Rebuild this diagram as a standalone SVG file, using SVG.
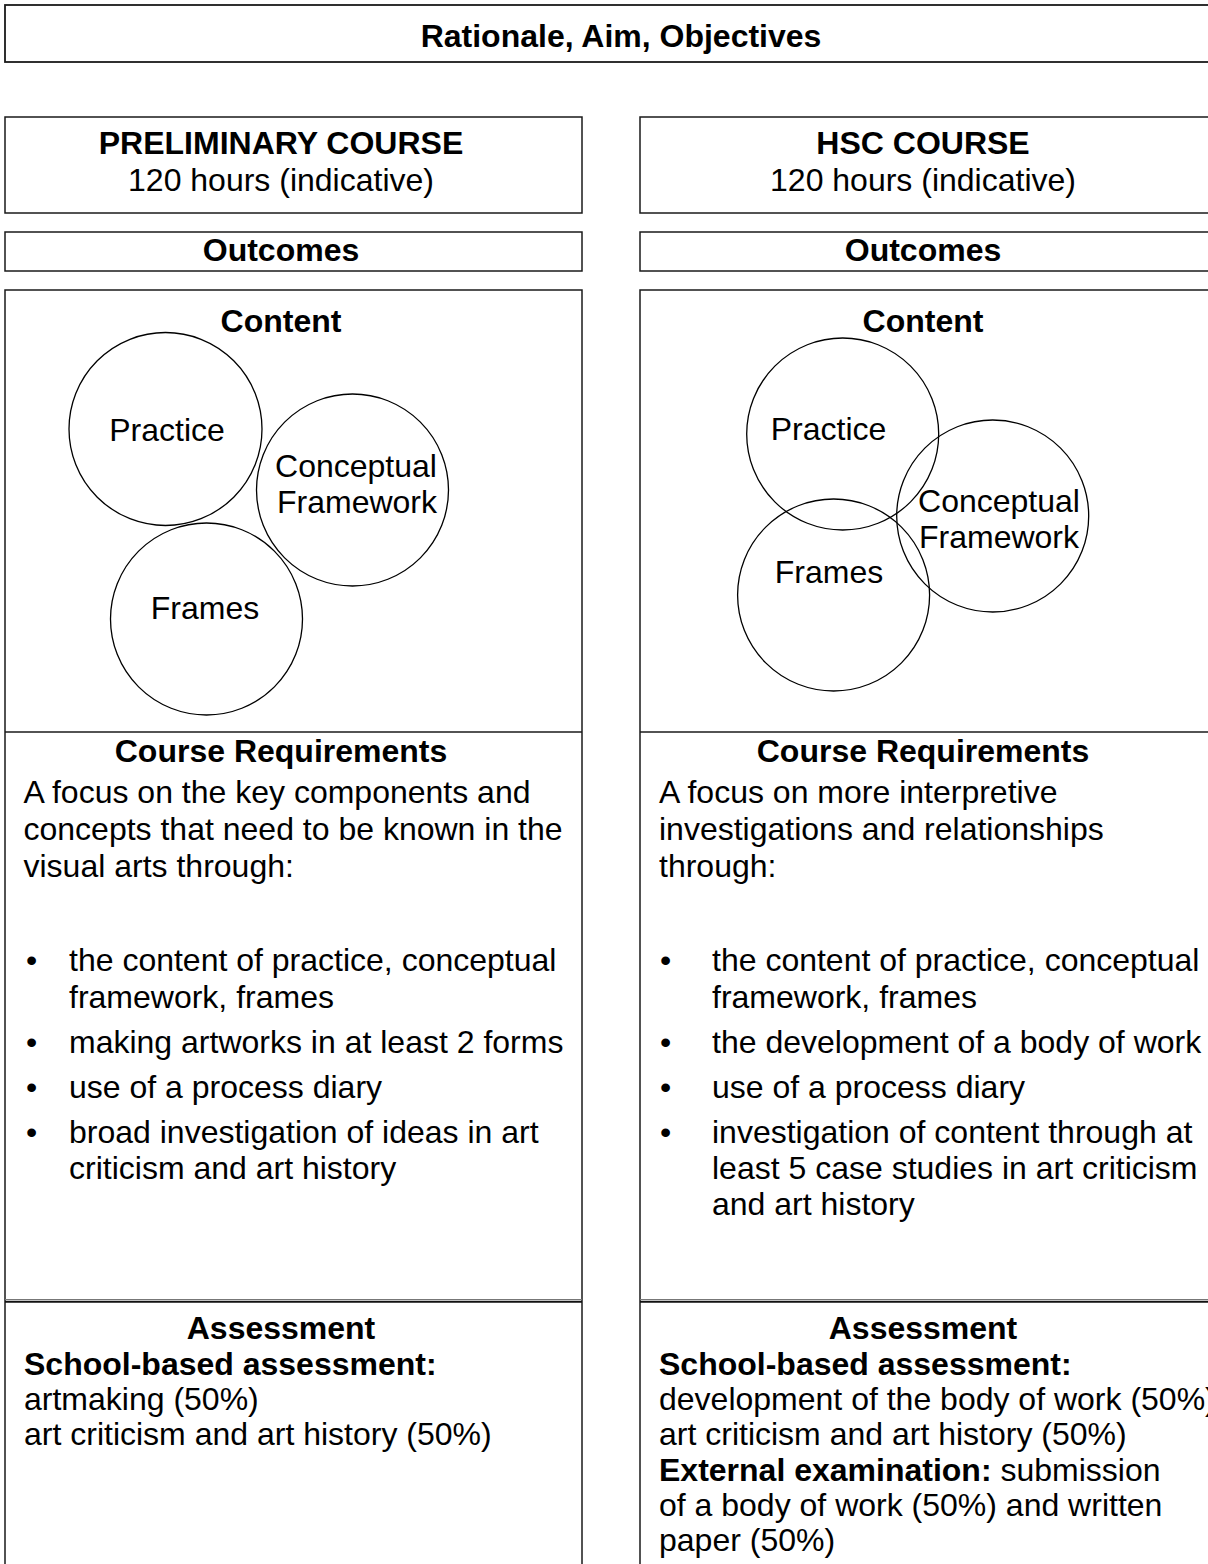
<svg xmlns="http://www.w3.org/2000/svg" width="1208" height="1564" viewBox="0 0 1208 1564">
<style>
  .box { fill: #ffffff; stroke: #1a1a1a; stroke-width: 1.5; }
  .sep { stroke: #1a1a1a; stroke-width: 1.5; fill: none; }
  .circ { fill: none; stroke: #000000; stroke-width: 1.3; }
  text { font-family: "Liberation Sans", Arial, sans-serif; font-size: 32px; fill: #000000; }
  .b { font-weight: bold; }
  .c { text-anchor: middle; }
</style>
<rect x="0" y="0" width="1208" height="1564" fill="#ffffff"/>

<g id="title">
  <rect class="box" x="5" y="5" width="1240" height="57" style="stroke-width:1.8"/>
  <text class="b c" x="621" y="47">Rationale, Aim, Objectives</text>
</g>

<g id="prelim-header">
  <rect class="box" x="5" y="117" width="577" height="96"/>
  <text class="b c" x="281" y="154">PRELIMINARY COURSE</text>
  <text class="c" x="281" y="191">120 hours (indicative)</text>
</g>
<g id="prelim-outcomes">
  <rect class="box" x="5" y="232" width="577" height="39"/>
  <text class="b c" x="281" y="261">Outcomes</text>
</g>
<g id="prelim-body">
  <rect class="box" x="5" y="290" width="577" height="1300"/>
  <line class="sep" x1="5" y1="732" x2="582" y2="732"/>
  <line x1="5" y1="1299.5" x2="582" y2="1299.5" stroke="#777" stroke-width="1"/>
  <line x1="5" y1="1301.8" x2="582" y2="1301.8" stroke="#111" stroke-width="2"/>
</g>
<g id="prelim-content">
  <text class="b c" x="281" y="332">Content</text>
  <g id="prelim-practice">
    <circle class="circ" cx="165.5" cy="429" r="96.5"/>
    <text class="c" x="167" y="441">Practice</text>
  </g>
  <g id="prelim-conceptual">
    <circle class="circ" cx="352.5" cy="490" r="96"/>
    <text class="c" x="356" y="477">Conceptual</text>
    <text class="c" x="357" y="513">Framework</text>
  </g>
  <g id="prelim-frames">
    <circle class="circ" cx="206.5" cy="619" r="96"/>
    <text class="c" x="205" y="619">Frames</text>
  </g>
</g>
<g id="prelim-requirements">
  <text class="b c" x="281" y="762">Course Requirements</text>
  <text x="23.5" y="803">A focus on the key components and</text>
  <text x="23.5" y="840">concepts that need to be known in the</text>
  <text x="23.5" y="877">visual arts through:</text>
  <text x="26" y="971">•</text><text x="69" y="971">the content of practice, conceptual</text>
  <text x="69" y="1008">framework, frames</text>
  <text x="26" y="1053">•</text><text x="69" y="1053">making artworks in at least 2 forms</text>
  <text x="26" y="1098">•</text><text x="69" y="1098">use of a process diary</text>
  <text x="26" y="1143">•</text><text x="69" y="1143">broad investigation of ideas in art</text>
  <text x="69" y="1179">criticism and art history</text>
</g>
<g id="prelim-assessment">
  <text class="b c" x="281" y="1339">Assessment</text>
  <text class="b" x="24" y="1374.5">School-based assessment:</text>
  <text x="24" y="1410">artmaking (50%)</text>
  <text x="24" y="1445">art criticism and art history (50%)</text>
</g>

<g id="hsc-header">
  <rect class="box" x="640" y="117" width="600" height="96"/>
  <text class="b c" x="923" y="154">HSC COURSE</text>
  <text class="c" x="923" y="191">120 hours (indicative)</text>
</g>
<g id="hsc-outcomes">
  <rect class="box" x="640" y="232" width="600" height="39"/>
  <text class="b c" x="923" y="261">Outcomes</text>
</g>
<g id="hsc-body">
  <rect class="box" x="640" y="290" width="600" height="1300"/>
  <line class="sep" x1="640" y1="732" x2="1240" y2="732"/>
  <line x1="640" y1="1299.5" x2="1240" y2="1299.5" stroke="#777" stroke-width="1"/>
  <line x1="640" y1="1301.8" x2="1240" y2="1301.8" stroke="#111" stroke-width="2"/>
</g>
<g id="hsc-content">
  <text class="b c" x="923" y="332">Content</text>
  <g id="hsc-practice">
    <circle class="circ" cx="842.7" cy="434" r="96"/>
    <text class="c" x="828.5" y="440">Practice</text>
  </g>
  <g id="hsc-conceptual">
    <circle class="circ" cx="992.7" cy="516" r="96"/>
    <text class="c" x="999" y="512">Conceptual</text>
    <text class="c" x="999" y="548">Framework</text>
  </g>
  <g id="hsc-frames">
    <circle class="circ" cx="833.6" cy="595" r="96"/>
    <text class="c" x="829" y="583">Frames</text>
  </g>
</g>
<g id="hsc-requirements">
  <text class="b c" x="923" y="762">Course Requirements</text>
  <text x="659" y="803">A focus on more interpretive</text>
  <text x="659" y="840">investigations and relationships</text>
  <text x="659" y="877">through:</text>
  <text x="660" y="971">•</text><text x="712" y="971">the content of practice, conceptual</text>
  <text x="712" y="1008">framework, frames</text>
  <text x="660" y="1053">•</text><text x="712" y="1053">the development of a body of work</text>
  <text x="660" y="1098">•</text><text x="712" y="1098">use of a process diary</text>
  <text x="660" y="1143">•</text><text x="712" y="1143">investigation of content through at</text>
  <text x="712" y="1179">least 5 case studies in art criticism</text>
  <text x="712" y="1215">and art history</text>
</g>
<g id="hsc-assessment">
  <text class="b c" x="923" y="1339">Assessment</text>
  <text class="b" x="659" y="1374.5">School-based assessment:</text>
  <text x="659" y="1410">development of the body of work (50%)</text>
  <text x="659" y="1445">art criticism and art history (50%)</text>
  <text x="659" y="1480.5"><tspan class="b">External examination:</tspan> submission</text>
  <text x="659" y="1516">of a body of work (50%) and written</text>
  <text x="659" y="1551">paper (50%)</text>
</g>

<g id="connectors"></g>
</svg>
